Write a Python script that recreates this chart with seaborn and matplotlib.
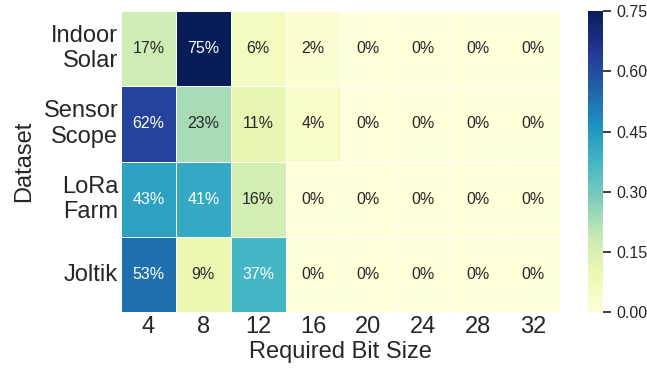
"""Heatmap of required bit size share per dataset."""

import matplotlib

matplotlib.use("Agg")
import matplotlib.pyplot as plt
import numpy as np
import pandas as pd
import seaborn as sns

datasets = ["Indoor\nSolar", "Sensor\nScope", "LoRa\nFarm", "Joltik"]
bit_sizes = [4, 8, 12, 16, 20, 24, 28, 32]

indoor_solar = [0.17, 0.75, 0.06, 0.02, 0.0, 0.0, 0.0, 0.0]
sensor_scope = [0.62, 0.23, 0.11, 0.04, 0.0, 0.0, 0.0, 0.0]
lora_farm = [0.43, 0.41, 0.16, 0.0, 0.0, 0.0, 0.0, 0.0]
joltik = [0.53, 0.09, 0.37, 0.0, 0.0, 0.0, 0.0, 0.0]

cbar_ticks = [0.0, 0.15, 0.30, 0.45, 0.60, 0.75]

sns.set_theme(style="ticks")
plt.rcParams["font.family"] = ["Liberation Sans", "DejaVu Sans"]

data = pd.DataFrame(
    np.array([indoor_solar, sensor_scope, lora_farm, joltik]),
    index=datasets,
    columns=bit_sizes,
)

fig = plt.figure(figsize=(6.47, 3.69), dpi=100)
ax = fig.add_axes([0.187, 0.154, 0.679, 0.816])
cax = fig.add_axes([0.909, 0.154, 0.023, 0.816])
sns.heatmap(
    data,
    ax=ax,
    cbar_ax=cax,
    cmap="YlGnBu",
    vmin=0,
    vmax=0.75,
    annot=True,
    fmt=".0%",
    linewidths=0.5,
    linecolor="white",
    annot_kws={"fontsize": 11.5},
    cbar_kws={"ticks": cbar_ticks, "format": "%.2f"},
)
ax.set_xlabel("Required Bit Size", fontsize=17, labelpad=2)
ax.set_ylabel("Dataset", fontsize=17, labelpad=6)
ax.tick_params(axis="x", labelsize=17, length=0, rotation=0, pad=3)
ax.tick_params(axis="y", labelsize=17, length=0, rotation=0, pad=2)
cax.tick_params(labelsize=11.5)
for spine in cax.spines.values():
    spine.set_visible(False)

fig.savefig("out.png", dpi=100)
plt.close(fig)
